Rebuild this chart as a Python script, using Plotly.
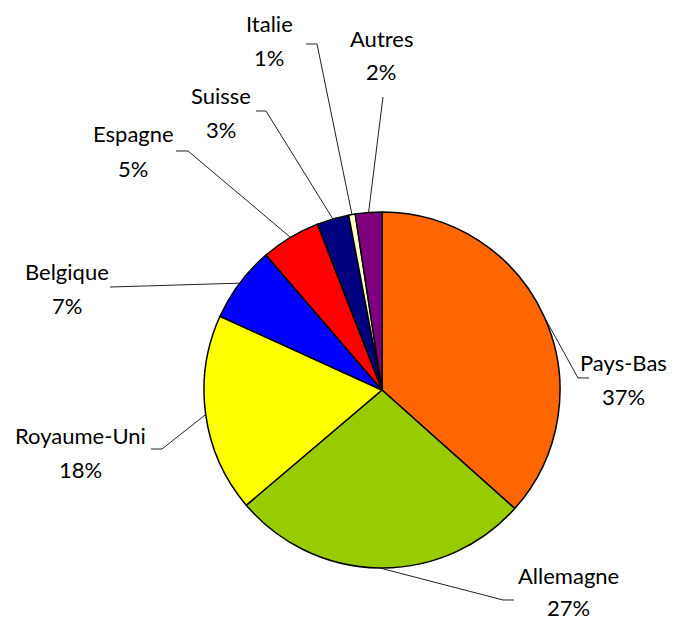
import math
import plotly.graph_objects as go

# Données
pays = ["Pays-Bas", "Allemagne", "Royaume-Uni", "Belgique", "Espagne", "Suisse", "Italie", "Autres"]
parts = [36.6, 27.2, 18.0, 6.9, 5.4, 2.9, 0.6, 2.4]
couleurs = ["#FF6600", "#99CC00", "#FFFF00", "#0000FF", "#FF0000", "#000080", "#FFFFCC", "#800080"]

# la page ajoute une marge de 8 px : on décale tout
DECAL = 8
W, H = 676 - DECAL, 623 - DECAL
CX, CY, R = 382, 390, 178

# Position des étiquettes (centre du nom, en pixels de la page)
pos_etiquettes = {
    "Pays-Bas": (623, 362),
    "Allemagne": (568, 575),
    "Royaume-Uni": (80, 435),
    "Belgique": (67, 271),
    "Espagne": (133, 134),
    "Suisse": (221, 95),
    "Italie": (269, 23),
    "Autres": (381, 38),
}
# Points des lignes de rappel (après le bord du camembert)
lignes_rappel = {
    "Pays-Bas": [(578, 378), (589, 378)],
    "Allemagne": [(503, 600), (514, 600)],
    "Royaume-Uni": [(162, 449), (151, 449)],
    "Belgique": [(110, 287)],
    "Espagne": [(188, 151), (176, 151)],
    "Suisse": [(266, 111), (256, 111)],
    "Italie": [(317, 44), (306, 44)],
    "Autres": [(383, 97)],
}


def paper(x, y):
    return (x - DECAL) / W, 1 - (y - DECAL) / H


fig = go.Figure(go.Pie(
    labels=pays, values=parts, sort=False, direction="clockwise", rotation=0,
    marker=dict(colors=couleurs, line=dict(color="black", width=1.5)),
    textinfo="none", hoverinfo="label+percent", showlegend=False,
    domain=dict(x=[paper(CX - R, 0)[0], paper(CX + R, 0)[0]],
                y=[paper(0, CY + R)[1], paper(0, CY - R)[1]]),
))

total = sum(parts)
cumul = 0
shapes = []
annotations = []
for nom, v in zip(pays, parts):
    angle = (cumul + v / 2) / total * 2 * math.pi
    cumul += v
    bord = (CX + R * math.sin(angle), CY - R * math.cos(angle))
    pts = [bord] + lignes_rappel[nom]
    chemin = " ".join(("M" if i == 0 else "L") + " %.4f %.4f" % paper(*p) for i, p in enumerate(pts))
    shapes.append(dict(type="path", path=chemin, xref="paper", yref="paper",
                       line=dict(color="#222222", width=1)))
    x, y = pos_etiquettes[nom]
    pct = "%d%%" % round(v / total * 100)
    ecart = 32 if nom == "Allemagne" else 34
    for texte, dy in [(nom, 0), (pct, ecart)]:
        px, py = paper(x, y + dy)
        annotations.append(dict(x=px, y=py, xref="paper", yref="paper", text=texte,
                                showarrow=False, xanchor="center", yanchor="middle",
                                font=dict(size=22, color="black", family="Lato")))

fig.update_layout(
    width=W, height=H, margin=dict(l=0, r=0, t=0, b=0),
    paper_bgcolor="white", plot_bgcolor="white",
    shapes=shapes, annotations=annotations,
)

fig.write_html("out.html")
